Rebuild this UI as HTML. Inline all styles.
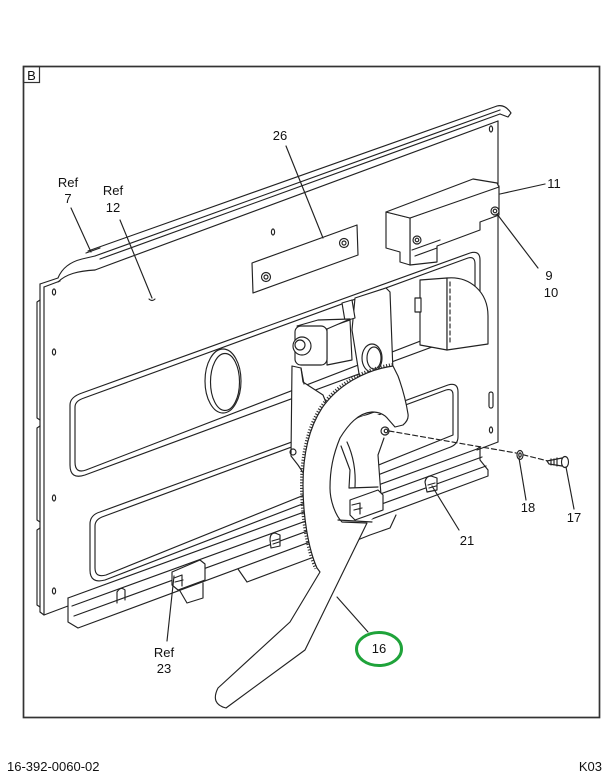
<!DOCTYPE html>
<html><head><meta charset="utf-8">
<style>
html,body{margin:0;padding:0;background:#fff;}
svg{display:block;}
text{font-family:"Liberation Sans",Arial,sans-serif;fill:#111;font-size:13px;}
</style></head><body>
<svg width="610" height="777" viewBox="0 0 610 777" xmlns="http://www.w3.org/2000/svg">
<rect x="0" y="0" width="610" height="777" fill="#fff"/>
<!-- frame -->
<rect x="23.5" y="66.5" width="576" height="651" fill="none" stroke="#333" stroke-width="1.7"/>
<rect x="23.5" y="66.5" width="16" height="16" fill="none" stroke="#333" stroke-width="1.2"/>
<text x="31.5" y="80" text-anchor="middle">B</text>

<g fill="none" stroke="#222" stroke-width="1.15" stroke-linejoin="round" stroke-linecap="round">
<!-- top rail -->
<line x1="88" y1="251" x2="497" y2="106"/>
<line x1="95" y1="256" x2="500" y2="110"/>
<line x1="100" y1="259" x2="500" y2="114"/>
<line x1="95" y1="270" x2="498" y2="121"/>
<path d="M497,106 Q505,104 511,113 L508,117 L500,114"/>
<path d="M86,253 L100,248"/>
<!-- left top bump -->
<path d="M40,284 L58,278 C62,268 70,262 82,259 L95,256"/>
<path d="M58,282 C66,274 78,271 95,270"/>
<path d="M44,287 L60,281"/>
<!-- right edge -->
<line x1="498" y1="121" x2="498" y2="442"/>
<path d="M498,442 L477,450"/>
<!-- left edge -->
<line x1="40" y1="284" x2="40" y2="612"/>
<line x1="44" y1="287" x2="44" y2="615"/>
<path d="M40,300 L37,302 L37,418 L40,420 M40,426 L37,428 L37,520 L40,522 M40,528 L37,530 L37,605 L40,607"/>
<path d="M40,612 L44,615 L68,606"/>
<!-- channel -->
<path d="M68,598 L68,622 L78,628 L488,476 L488,470 L480,460 L480,447 L477,449"/>
<line x1="68" y1="598" x2="477" y2="449"/>
<line x1="72" y1="606" x2="482" y2="457"/>
<line x1="74" y1="616" x2="486" y2="466"/>
<path d="M117,603 L117,592 Q121,586 125,590 L125,600"/>
<!-- hanging plate -->
<path d="M180,591 L187,603 L203,598 L203,583"/>
<path d="M238,569 L247,582 L330,551"/>
<path d="M355,541 L370,535 L390,528 L396,515"/>
<!-- holes -->
<ellipse cx="54" cy="292" rx="1.6" ry="3"/>
<ellipse cx="54" cy="352" rx="1.6" ry="3"/>
<ellipse cx="54" cy="498" rx="1.6" ry="3"/>
<ellipse cx="54" cy="591" rx="1.6" ry="3"/>
<ellipse cx="273" cy="232" rx="1.6" ry="3"/>
<ellipse cx="491" cy="129" rx="1.6" ry="3"/>
<ellipse cx="491" cy="430" rx="1.6" ry="3"/>
<rect x="489" y="392" width="4" height="16" rx="2"/>
<!-- upper recess -->
<path d="M82,393 L470,253 Q480,250 480,260 L480,322 Q480,330 470,333 L85,475 Q70,480 70,465 L70,405 Q70,397 82,393 Z"/>
<path d="M84,398 L468,258 Q475,256 475,264 L475,320 L86,470 Q75,474 75,462 L75,407 Q75,401 84,398 Z"/>
<!-- lower recess -->
<path d="M100,512 L448,385 Q458,382 458,392 L458,437 Q458,445 448,448 L105,580 Q90,584 90,570 L90,524 Q90,515 100,512 Z"/>
<path d="M102,517 L446,390 Q453,388 453,395 L453,435 L106,575 Q95,578 95,568 L95,526 Q95,520 102,517 Z"/>
<!-- oval -->
<ellipse cx="223" cy="381" rx="18" ry="32" fill="#fff"/>
<ellipse cx="225" cy="382" rx="14.5" ry="28.5"/>
<!-- plate 26 -->
<polygon points="252,263 357,225 358,255 253,293" fill="#fff"/>
<circle cx="266" cy="277" r="4.5"/><circle cx="266" cy="277" r="2"/>
<circle cx="344" cy="243" r="4.5"/><circle cx="344" cy="243" r="2"/>
<!-- bracket 11 -->
<polygon points="410,218 499,186 499,215 480,222 480,230 437,246 437,262 410,265" fill="#fff"/>
<polygon points="386,212 410,218 410,265 400,262 400,252 386,248" fill="#fff"/>
<polygon points="386,212 473,179 497,183 499,187 410,218" fill="#fff"/>
<path d="M412,250 L440,240 M415,256 L437,248"/>
<circle cx="417" cy="240" r="4" fill="#fff"/><circle cx="417" cy="240" r="1.8"/>
<circle cx="495" cy="211" r="4" fill="#fff"/><circle cx="495" cy="211" r="1.8"/>
<!-- right motor housing -->
<path d="M420,280 L447,278 L447,350 L420,345 Z" fill="#fff"/>
<path d="M447,278 C470,276 488,292 488,316 L488,344 L447,350 Z" fill="#fff"/>
<path d="M450,282 L450,345" stroke-dasharray="4 3"/>
<rect x="415" y="298" width="6" height="14" fill="#fff"/>
<!-- tall plate -->
<polygon points="355,298 386,288 390,292 393,372 360,380 352,330" fill="#fff"/>
<polygon points="342,303 352,300 355,318 345,321" fill="#fff"/>
<!-- motor box -->
<path d="M327,328 L350,320 L352,360 L327,365 Z" fill="#fff"/>
<path d="M297,326 L318,320 L350,319 L327,329 Z" fill="#fff"/>
<rect x="295" y="326" width="32" height="39" rx="6" fill="#fff"/>
<circle cx="302" cy="346" r="9" fill="#fff"/>
<circle cx="300" cy="345" r="5"/>
<!-- boss -->
<ellipse cx="372" cy="358" rx="10" ry="14" fill="#fff"/>
<ellipse cx="374" cy="358" rx="7" ry="11"/>
<!-- left arm -->
<polygon points="292,366 301,368 303,382 323,395 327,405 312,440 304,474 298,465 291,456" fill="#fff"/>
<circle cx="293" cy="452" r="3"/>
<path d="M301,368 L304,384"/>
<!-- gear teeth -->
<path d="M393,366 C365,370 338,385 322,408 C309,428 303,455 303,485 C303,515 308,548 317,568" stroke="#333" stroke-width="6" stroke-dasharray="1.1 1.7" stroke-linecap="butt"/>
<!-- opening fill behind -->
<path d="M387,419 C380,411 358,414 348,425 C336,445 330,470 330,488 C330,500 335,515 342,522 L368,523 L383,508 L380,482 L378,455 L384,438 Z" fill="#fff" stroke="none"/>
<!-- sector + lever (one piece) -->
<path d="M393,366 C365,370 338,385 322,408 C309,428 303,455 303,485 C303,515 308,548 317,568 L320,572 L290,622 L218,688 Q210,704 226,708 L305,650 L367,523 L342,522 C335,515 330,500 330,488 C330,470 333,455 340,438 C348,425 358,413 372,412 C380,412 385,415 388,419 L395,427 L403,425 Q409,420 408,414 Q405,395 398,376 Z" fill="#fff"/>
<circle cx="385" cy="431" r="4" fill="#fff"/><circle cx="386" cy="431" r="1.8"/>
<path d="M384,438 L378,455 L380,482 L382,508"/>
<path d="M341,446 L350,470 L349,488 L378,487 M347,442 C353,455 356,470 355,487"/>
<path d="M338,520 L372,522"/>
<!-- clips -->
<path d="M350,500 L378,490 L383,495 L383,510 L355,520 L350,515 Z" fill="#fff"/>
<path d="M352,505 L360,503 L360,514 M354,510 L362,508"/>
<path d="M172,572 L200,560 L205,564 L205,580 L178,590 L172,585 Z" fill="#fff"/>
<path d="M174,578 L182,575 L182,586 M175,582 L183,580"/>
<path d="M425,482 Q426,476 431,476 L437,478 L437,490 L427,492 Z" fill="#fff"/>
<path d="M428,485 L435,483 M429,488 L436,486"/>
<path d="M270,540 Q270,533 275,533 L280,535 L280,546 L271,548 Z" fill="#fff"/>
<path d="M272,541 L279,539 M273,544 L279,542"/>
<!-- dashed line + hardware -->
<path d="M389,431 L516,453 L548,461" stroke-dasharray="5 3"/>
<ellipse cx="520" cy="455" rx="3" ry="4.5" fill="#fff"/>
<ellipse cx="520" cy="455" rx="1.2" ry="2"/>
<path d="M547,461 L562,458 L562,466 L549,464 Z" fill="#fff"/>
<path d="M551,459 L551,465 M554,459 L554,465 M557,458 L557,466"/>
<ellipse cx="565" cy="462" rx="3.5" ry="5.5" fill="#fff"/>
<!-- leaders -->
<line x1="286" y1="146" x2="323" y2="238"/>
<line x1="71" y1="208" x2="91" y2="252"/>
<line x1="120" y1="220" x2="152" y2="298"/>
<path d="M149,299 q3,3 6,0"/>
<line x1="500" y1="194" x2="545" y2="184"/>
<line x1="497" y1="214" x2="538" y2="268"/>
<line x1="519" y1="458" x2="526" y2="500"/>
<line x1="566" y1="467" x2="574" y2="509"/>
<line x1="432" y1="486" x2="459" y2="530"/>
<line x1="337" y1="597" x2="368" y2="632"/>
<line x1="174" y1="576" x2="167" y2="641"/>
</g>

<!-- green circle -->
<ellipse cx="379" cy="649" rx="22.5" ry="16.5" fill="none" stroke="#1fa33a" stroke-width="3"/>

<!-- labels -->
<text x="280" y="140" text-anchor="middle">26</text>
<text x="68" y="187" text-anchor="middle">Ref</text>
<text x="68" y="203" text-anchor="middle">7</text>
<text x="113" y="195" text-anchor="middle">Ref</text>
<text x="113" y="212" text-anchor="middle">12</text>
<text x="554" y="188" text-anchor="middle">11</text>
<text x="549" y="280" text-anchor="middle">9</text>
<text x="551" y="297" text-anchor="middle">10</text>
<text x="528" y="512" text-anchor="middle">18</text>
<text x="574" y="522" text-anchor="middle">17</text>
<text x="467" y="545" text-anchor="middle">21</text>
<text x="379" y="653" text-anchor="middle">16</text>
<text x="164" y="657" text-anchor="middle">Ref</text>
<text x="164" y="673" text-anchor="middle">23</text>
<text x="7" y="771">16-392-0060-02</text>
<text x="602" y="771" text-anchor="end">K03</text>
</svg>
</body></html>
